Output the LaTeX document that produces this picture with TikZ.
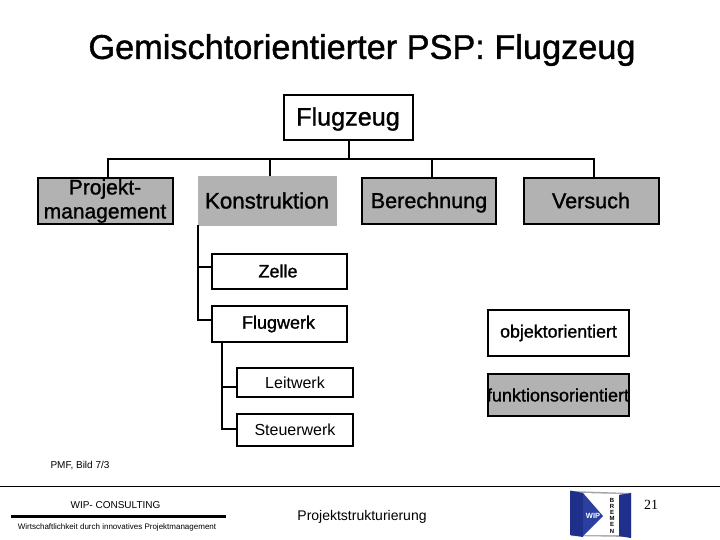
\documentclass[tikz,border=0pt]{standalone}
\usepackage{fontspec}
\setmainfont{Liberation Sans}
\newfontfamily\heavy[FakeBold=1.2]{Liberation Sans}
\definecolor{boxgray}{HTML}{B2B2B2}
\definecolor{wipblue}{HTML}{2A3F9E}
\definecolor{wipdark}{HTML}{1F2F8C}
\newcommand{\px}[1]{\fontsize{#1}{#1}\selectfont}
\tikzset{
  boxbase/.style={draw=black,line width=2.2pt,anchor=center,inner sep=0pt,align=center},
  conn/.style={draw=black,line width=2pt,line cap=rect},
  lbl/.style={inner sep=0pt,anchor=center,align=center},
}
\begin{document}
\begin{tikzpicture}[x=1pt,y=-1pt]
\useasboundingbox (0,0) rectangle (720,540);
\newcommand{\pbox}[7]{\node[boxbase,#1,minimum width=#5 pt-2.2pt,minimum height=#6 pt-2.2pt] (#2) at (#3,#4) {};}
\node[lbl] (title) at (362,50) {\heavy\px{34.3}Gemischtorientierter PSP: Flugzeug};
\pbox{fill=white}{fl}{348.5}{117.5}{131}{47}{}
\pbox{fill=boxgray}{pm}{105.5}{201}{137}{48}{}
\node[boxbase,draw=none,fill=boxgray,minimum width=139pt,minimum height=50pt] (ko) at (267.5,201) {};
\pbox{fill=boxgray}{be}{429}{201}{136}{48}{}
\pbox{fill=boxgray}{ve}{591.5}{201}{137}{48}{}
\pbox{fill=white}{ze}{279.5}{271.5}{137}{37}{}
\pbox{fill=white}{fw}{279.5}{324}{137}{38}{}
\pbox{fill=white}{lw}{295}{382.5}{118}{31}{}
\pbox{fill=white}{sw}{295}{430}{118}{34}{}
\pbox{fill=white}{ob}{558.5}{333}{143}{48}{}
\pbox{fill=boxgray}{fu}{558.5}{395}{143}{44}{}
% box labels
\node[lbl] (tfl) at (348,119) {\heavy\px{25.2}Flugzeug};
\node[lbl,font=\heavy\fontsize{21}{24}\selectfont] (tpm) at (105,201) {Projekt-\\management};
\node[lbl] (tko) at (267,200.5) {\heavy\px{22.3}Konstruktion};
\node[lbl] (tbe) at (429,202.5) {\heavy\px{21.6}Berechnung};
\node[lbl] (tve) at (591,200.5) {\heavy\px{21.6}Versuch};
\node[lbl] (tze) at (278,271) {\heavy\px{18}Zelle};
\node[lbl] (tfw) at (278.5,324) {\heavy\px{18}Flugwerk};
\node[lbl] (tlw) at (295,383) {\px{16}Leitwerk};
\node[lbl] (tsw) at (295,430) {\px{16}Steuerwerk};
\node[lbl] (tob) at (558.5,333) {\heavy\px{17.8}objektorientiert};
\node[lbl] (tfu) at (558,395) {\heavy\px{18}funktionsorientiert};
% connectors
\coordinate (busroot) at (349,159);
\coordinate (busl) at (108,159);
\coordinate (busk) at (270,159);
\coordinate (busb) at (432,159);
\coordinate (busv) at (594,159);
\draw[conn] (fl.south -| busroot) -- (busroot);
\draw[conn] (busl) -- (busv);
\draw[conn] (busl) -- (pm.north -| busl);
\draw[conn] (busk) -- (ko.north -| busk);
\draw[conn] (busb) -- (be.north -| busb);
\draw[conn] (busv) -- (ve.north -| busv);
\coordinate (kt) at (198,226);
\coordinate (kz) at (198,267);
\coordinate (kf) at (198,320);
\draw[conn] (kt) -- (kf) -- (kf -| fw.west);
\draw[conn] (kz) -- (kz -| ze.west);
\coordinate (ft) at (222,343);
\coordinate (fl2) at (222,387);
\coordinate (fs) at (222,429);
\draw[conn] (ft) -- (fs) -- (fs -| sw.west);
\draw[conn] (fl2) -- (fl2 -| lw.west);
% footer
\node[lbl] (bild) at (80,465.5) {\px{10}PMF, Bild 7/3};
\coordinate (fa) at (0,486.5);
\coordinate (fb) at (720,486.5);
\draw[black,line width=1pt] (fa) -- (fb);
\node[lbl] (wip) at (115.5,505.5) {\px{10}WIP- CONSULTING};
\coordinate (ta) at (11,516.5);
\coordinate (tb) at (226,516.5);
\draw[black,line width=3pt] (ta) -- (tb);
\node[lbl] (wirt) at (117,527) {\px{8}Wirtschaftlichkeit durch innovatives Projektmanagement};
\node[lbl] (ps) at (362,517) {\px{14}Projektstrukturierung};
\node[lbl] (num) at (651,504.5) {\fontspec{Liberation Serif}\px{14}21};
% logo
\fill[black!35] (571,491) -- (631,493) -- (631,537) -- (571,536) -- cycle;
\fill[white] (582,493) -- (620,494) -- (620,535) -- (582,535) -- cycle;
\fill[wipdark] (570,490.5) -- (583,493) -- (583,537) -- (570,535) -- cycle;
\fill[wipblue] (583,493) -- (603,516) -- (583,536) -- cycle;
\fill[wipdark] (619,495) -- (631,493) -- (631,538) -- (619,536) -- cycle;
\node[lbl,text=white] (lw1) at (593,516) {\px{7.5}\textbf{WIP}};
\node[lbl,font=\fontsize{6}{6.2}\selectfont\bfseries] (lw2) at (612,515.5) {B\\R\\E\\M\\E\\N};
\end{tikzpicture}
\end{document}
